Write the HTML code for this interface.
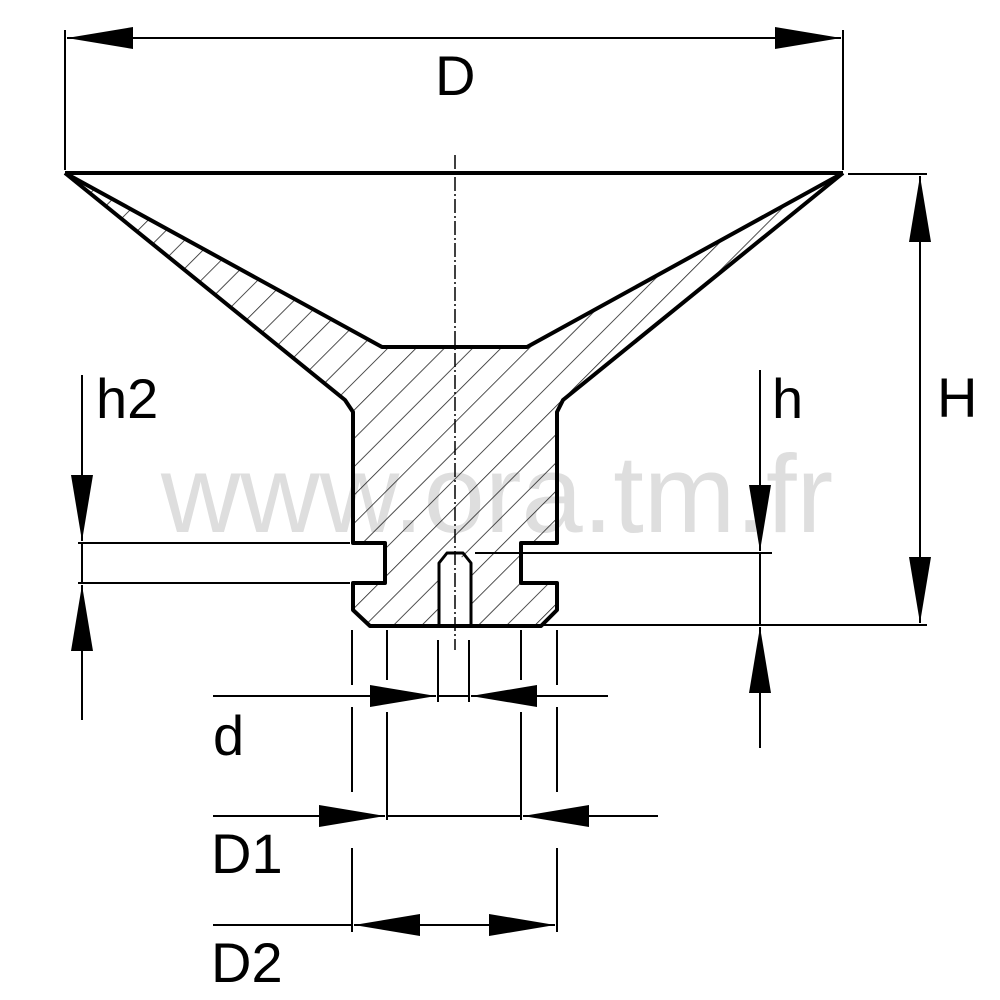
<!DOCTYPE html>
<html><head><meta charset="utf-8"><style>html,body{margin:0;padding:0;background:#fff}svg{display:block}</style></head>
<body>
<svg width="1000" height="1000" viewBox="0 0 1000 1000" xmlns="http://www.w3.org/2000/svg">
<defs>
<marker id="a" viewBox="0 0 66 22" refX="66" refY="11" markerWidth="66" markerHeight="22" markerUnits="userSpaceOnUse" orient="auto-start-reverse"><path d="M0,0 L66,11 L0,22 Z" fill="#000"/></marker>
<clipPath id="body"><path d="M65,173 L382,347 L527,347 L843,173 L563,400 L557,410 L557,543 L521,543 L521,583 L557,583 L557,610 L541,626 L471,626 L471,563 L455,553 L439,563 L439,626 L370,626 L353,610 L353,583 L385,583 L385,543 L353,543 L353,410 L345,400 Z"/></clipPath>
<pattern id="h" patternUnits="userSpaceOnUse" width="20" height="20" patternTransform="rotate(45)"><line x1="0" y1="0" x2="0" y2="20" stroke="#222" stroke-width="1.6"/></pattern>
</defs>
<text x="497" y="532" font-family="Liberation Sans, sans-serif" font-size="110" fill="#dedede" text-anchor="middle">www.ora.tm.fr</text>
<rect x="0" y="0" width="1000" height="1000" fill="url(#h)" clip-path="url(#body)"/>
<g fill="none" stroke="#000" stroke-width="4" stroke-linejoin="round">
<path d="M65,173 L843,173"/>
<path d="M65,173 L382,347 L527,347 L843,173"/>
<path d="M65,173 L345,400 L353,412 L353,543 L385,543 L385,583 L353,583 L353,610 L370,626 L541,626 L557,610 L557,583 L521,583 L521,543 L557,543 L557,412 L563,400 L843,173"/>
<path d="M439,626 L439,563 L447,553 L463,553 L471,563 L471,626" stroke-width="3"/>
</g>
<g stroke="#000" stroke-width="2" fill="none">
<line x1="455" y1="155" x2="455" y2="650" stroke-dasharray="14,3,2,3" stroke-width="1.5"/>
<line x1="65" y1="30" x2="65" y2="170"/><line x1="843" y1="30" x2="843" y2="170"/>
<line x1="67" y1="38" x2="841" y2="38" marker-start="url(#a)" marker-end="url(#a)"/>
<line x1="848" y1="174" x2="927" y2="174"/><line x1="541" y1="625" x2="927" y2="625"/>
<line x1="920" y1="176" x2="920" y2="623" marker-start="url(#a)" marker-end="url(#a)"/>
<line x1="475" y1="553" x2="772" y2="553"/>
<line x1="760" y1="370" x2="760" y2="551" marker-end="url(#a)"/>
<line x1="760" y1="553" x2="760" y2="625"/>
<line x1="760" y1="748" x2="760" y2="627" marker-end="url(#a)"/>
<line x1="78" y1="543" x2="350" y2="543"/><line x1="78" y1="583" x2="350" y2="583"/>
<line x1="82" y1="375" x2="82" y2="541" marker-end="url(#a)"/>
<line x1="82" y1="543" x2="82" y2="583"/>
<line x1="82" y1="720" x2="82" y2="585" marker-end="url(#a)"/>
<path d="M352,630 V685 M352,707 V792 M352,848 V932 M557,630 V685 M557,707 V792 M557,848 V932"/>
<path d="M387,630 V680 M387,712 V820 M521,630 V680 M521,712 V820"/>
<path d="M438,640 V702 M469,640 V702"/>
<line x1="213" y1="696" x2="436" y2="696" marker-end="url(#a)"/>
<line x1="438" y1="696" x2="469" y2="696"/>
<line x1="608" y1="696" x2="471" y2="696" marker-end="url(#a)"/>
<line x1="213" y1="816" x2="385" y2="816" marker-end="url(#a)"/>
<line x1="387" y1="816" x2="521" y2="816"/>
<line x1="658" y1="816" x2="523" y2="816" marker-end="url(#a)"/>
<line x1="213" y1="925" x2="352" y2="925"/>
<line x1="354" y1="925" x2="555" y2="925" marker-start="url(#a)" marker-end="url(#a)"/>
</g>
<g font-family="Liberation Sans, sans-serif" font-size="56" fill="#000">
<text x="435" y="95">D</text>
<text x="937" y="417">H</text>
<text x="772" y="418">h</text>
<text x="96" y="418">h2</text>
<text x="213" y="755">d</text>
<text x="211" y="873">D1</text>
<text x="211" y="982">D2</text>
</g>
</svg>
</body></html>
